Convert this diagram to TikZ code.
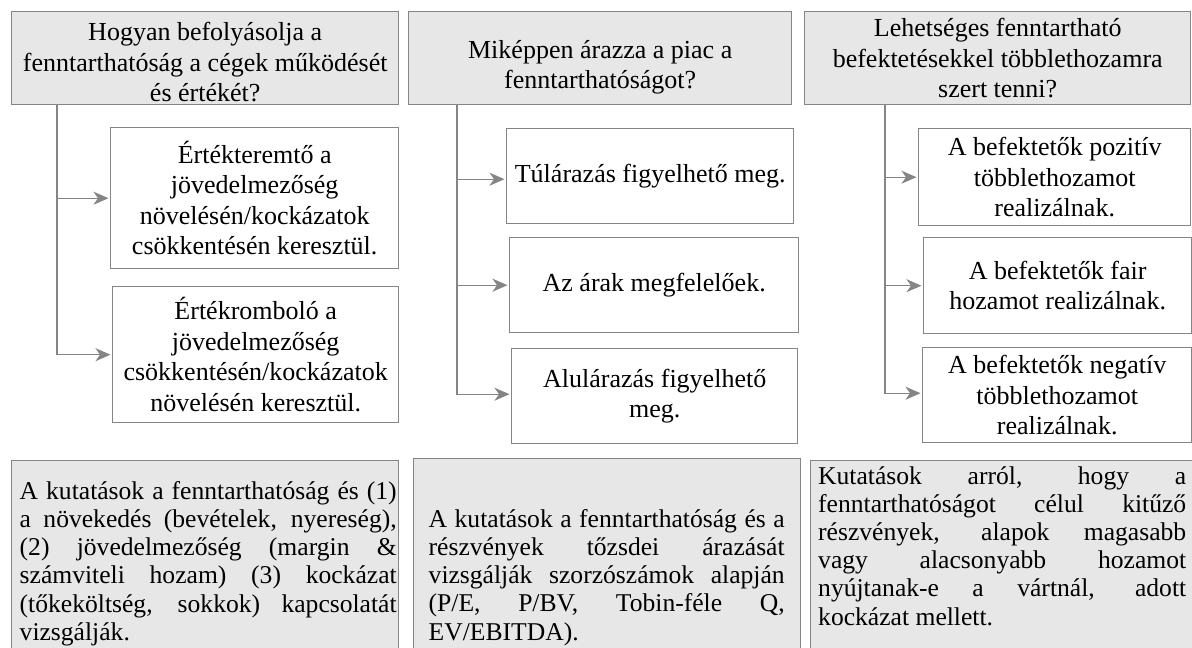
\documentclass[tikz,border=0pt]{standalone}
\usepackage{fontspec}
\setmainfont{Liberation Serif}
\usetikzlibrary{arrows.meta}
\definecolor{bordergray}{HTML}{858585}
\definecolor{headfill}{HTML}{E7E7E7}
\hyphenpenalty=10000
\exhyphenpenalty=10000
\tolerance=10000
\begin{document}
\begin{tikzpicture}[x=1pt,y=-1pt,
  base/.style={draw=bordergray, line width=1.4pt, inner sep=0pt, anchor=north west, align=center, font=\fontsize{26}{30.5}\selectfont},
  headbox/.style={base, fill=headfill},
  headtext/.style={inner sep=0pt, align=center, font=\fontsize{26}{30.5}\selectfont},
  childbox/.style={base, fill=white},
  bottombox/.style={draw=bordergray, line width=1.4pt, fill=headfill, inner sep=0pt, anchor=north west},
  bottomtext/.style={inner sep=0pt, anchor=north west, align=justify, font=\fontsize{25.6}{28.2}\selectfont},
  conn/.style={draw=bordergray, line width=1.4pt, shorten >=1.5pt, -{Stealth[length=15pt,width=13pt,inset=4.5pt]}}
]
\useasboundingbox (0,0) rectangle (1192,648);
% headers
\node[headbox, minimum width=387, minimum height=93] (h1) at (11,11) {};
\node[headbox, minimum width=383, minimum height=93] (h2) at (408,11) {};
\node[headbox, minimum width=386, minimum height=93] (h3) at (804,11) {};
\node[headtext] (h1t) at ([yshift=-4pt]h1.center) {Hogyan befolyásolja a\\fenntarthatóság a cégek működését\\és értékét?};
\node[headtext] (h2t) at ([yshift=-9pt]h2.center) {Miképpen árazza a piac a\\fenntarthatóságot?};
\node[headtext] (h3t) at (h3.center) {Lehetséges fenntartható\\befektetésekkel többlethozamra\\szert tenni?};
% children column 1
\node[childbox, minimum width=288, minimum height=141] (c11) at (110,127) {Értékteremtő a\\jövedelmezőség\\növelésén/kockázatok\\csökkentésén keresztül.};
\node[childbox, minimum width=286, minimum height=136] (c12) at (112,286) {Értékromboló a\\jövedelmezőség\\csökkentésén/kockázatok\\növelésén keresztül.};
% children column 2
\node[childbox, minimum width=287, minimum height=95] (c21) at (506,128) {Túlárazás figyelhető meg.};
\node[childbox, minimum width=289, minimum height=95] (c22) at (509,237) {Az árak megfelelőek.};
\node[childbox, minimum width=286, minimum height=95] (c23) at (511,348) {Alulárazás figyelhető\\meg.};
% children column 3
\node[childbox, minimum width=272, minimum height=97] (c31) at (918,128) {A befektetők pozitív\\többlethozamot\\realizálnak.};
\node[childbox, minimum width=268, minimum height=96] (c32) at (923,237) {A befektetők fair\\hozamot realizálnak.};
\node[childbox, minimum width=269, minimum height=95] (c33) at (922,347) {A befektetők negatív\\többlethozamot\\realizálnak.};
% trunks
\coordinate (t1) at (57,104);
\coordinate (t2) at (457,104);
\coordinate (t3) at (885,104);
\draw[conn] (t1) |- (c11.west);
\draw[conn] (t1) |- (c12.west);
\draw[conn] (t2) |- ([yshift=-3pt]c21.west);
\draw[conn] (t2) |- (c22.west);
\draw[conn] (t2) |- ([yshift=2pt]c23.west);
\draw[conn] (t3) |- (c31.west);
\draw[conn] (t3) |- (c32.west);
\draw[conn] (t3) |- ([yshift=2pt]c33.west);
% bottom boxes
\node[bottombox, minimum width=387, minimum height=220] (b1) at (11,460) {};
\node[bottombox, minimum width=387, minimum height=220] (b2) at (413,458) {};
\node[bottombox, minimum width=400, minimum height=220] (b3) at (810,460) {};
\node[bottomtext, text width=377] (b1t) at (19.5,481) {A kutatások a fenntarthatóság és (1)\linebreak a növekedés (bevételek, nyereség),\linebreak (2) jövedelmezőség (margin \&\linebreak számviteli hozam) (3) kockázat\linebreak (tőkeköltség, sokkok) kapcsolatát\linebreak vizsgálják.};
\node[bottomtext, text width=356] (b2t) at (428.5,509) {A kutatások a fenntarthatóság és a\linebreak részvények tőzsdei árazását\linebreak vizsgálják szorzószámok alapján\linebreak (P/E, P/BV, Tobin-féle Q,\linebreak EV/EBITDA).};
\node[bottomtext, text width=368] (b3t) at (818,466) {Kutatások arról, hogy a\linebreak fenntarthatóságot célul kitűző\linebreak részvények, alapok magasabb\linebreak vagy alacsonyabb hozamot\linebreak nyújtanak-e a vártnál, adott\linebreak kockázat mellett.};
\end{tikzpicture}
\end{document}
